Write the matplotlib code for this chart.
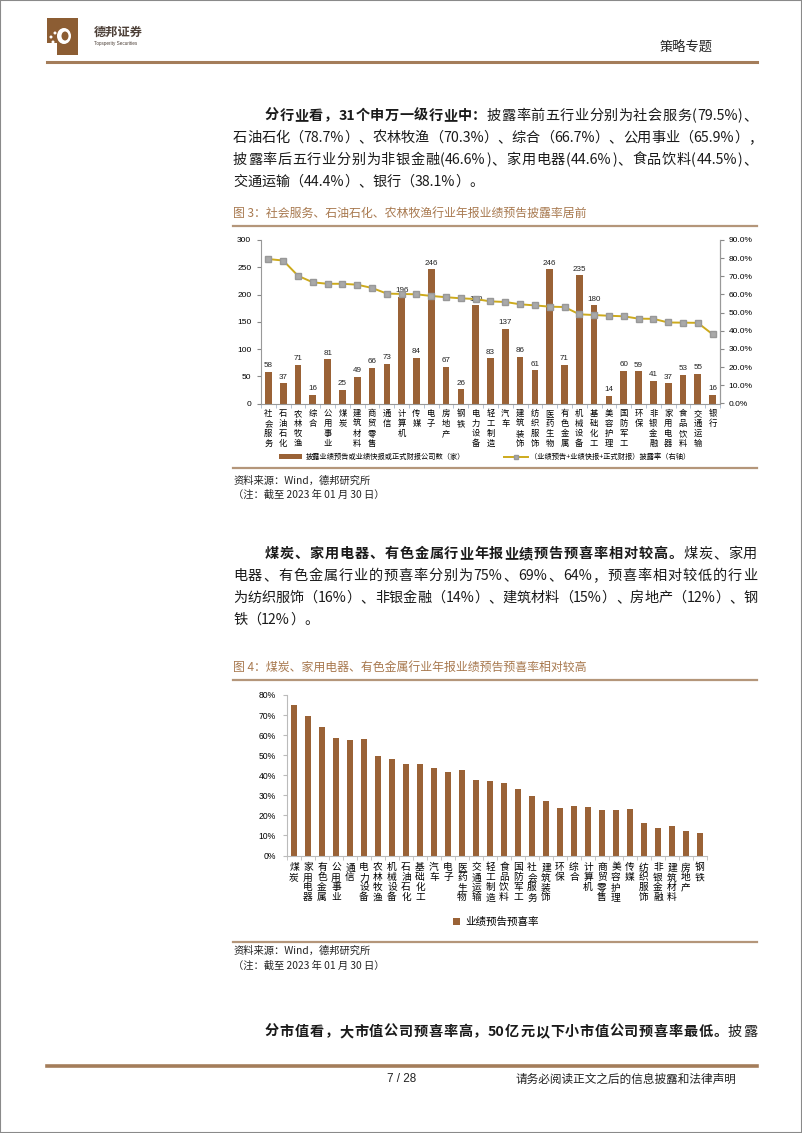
import matplotlib
matplotlib.use("Agg")
from matplotlib import pyplot as plt
from matplotlib.patches import Rectangle, Patch, Ellipse
from matplotlib.lines import Line2D
import numpy as np
import re

plt.rcParams['font.family'] = ['Noto Sans CJK SC', 'DejaVu Sans']

W, H = 802, 1133
CJK = ['Noto Sans CJK SC', 'DejaVu Sans']
NUM = ['Liberation Sans', 'DejaVu Sans']
BROWN = '#9a6236'
TITLE_C = '#a8794f'
RULE_C = '#b4967a'

# ---- figure 3 data ----
ind3 = ['社会服务', '石油石化', '农林牧渔', '综合', '公用事业', '煤炭', '建筑材料', '商贸零售',
        '通信', '计算机', '传媒', '电子', '房地产', '钢铁', '电力设备', '轻工制造', '汽车',
        '建筑装饰', '纺织服饰', '医药生物', '有色金属', '机械设备', '基础化工', '美容护理',
        '国防军工', '环保', '非银金融', '家用电器', '食品饮料', '交通运输', '银行']
cnt3 = [58, 37, 71, 16, 81, 25, 49, 66, 73, 196, 84, 246, 67, 26, 180, 83, 137,
        86, 61, 246, 71, 235, 180, 14, 60, 59, 41, 37, 53, 55, 16]
rate3 = [79.5, 78.7, 70.3, 66.7, 65.9, 65.9, 65.4, 63.6, 60.5, 60.3, 60.1, 59.2, 58.5,
         57.9, 57.5, 56.2, 55.9, 54.6, 54.0, 53.3, 53.1, 49.1, 48.7, 48.3, 48.0, 46.7,
         46.6, 44.6, 44.5, 44.4, 38.1]

# ---- figure 4 data ----
ind4 = ['煤炭', '家用电器', '有色金属', '公用事业', '通信', '电力设备', '农林牧渔', '机械设备',
        '石油石化', '基础化工', '汽车', '电子', '医药生物', '交通运输', '轻工制造', '食品饮料',
        '国防军工', '社会服务', '建筑装饰', '环保', '综合', '计算机', '商贸零售', '美容护理',
        '传媒', '纺织服饰', '非银金融', '建筑材料', '房地产', '钢铁']
rate4 = [75.0, 69.3, 64.0, 58.7, 57.5, 58.0, 49.8, 48.1, 45.8, 45.4, 43.4, 41.5, 42.5,
         37.8, 37.1, 36.2, 33.2, 29.5, 27.2, 23.5, 24.7, 24.4, 22.9, 22.9, 23.1, 16.1,
         13.8, 14.8, 12.1, 11.3]

fig = plt.figure(figsize=(W / 100, H / 100), dpi=100)
renderer = fig.canvas.get_renderer()


def fx(x):
    return x / W


def fy(y):
    return 1 - y / H


def hline(y, x0, x1, color, lw):
    fig.add_artist(Line2D([fx(x0), fx(x1)], [fy(y), fy(y)], color=color, lw=lw))


def rich(x, y, parts, size=10.2, right=None):
    # lay out tokens; if right is given, spread them so the line ends there
    toks = []
    for txt, wt in parts:
        for piece in re.findall(r'[0-9A-Za-z.%]+|.', txt):
            t = fig.text(fx(x), fy(y), piece, fontsize=size, fontweight=wt, family=CJK,
                         ha='left', va='center', color='#1a1a1a')
            toks.append((t, t.get_window_extent(renderer).width))
    total = sum(w for _, w in toks)
    gap = 0
    if right is not None and len(toks) > 1:
        gap = max(0, (right - x - total) / (len(toks) - 1))
    for t, w in toks:
        t.set_x(fx(x))
        x += w + gap


# page border
fig.add_artist(Rectangle((0, 0), 1, 1, transform=fig.transFigure, fill=False,
                         edgecolor='#8a8a8a', lw=1.5))

# header
fig.add_artist(Rectangle((fx(47), fy(55)), fx(31), 37 / H, transform=fig.transFigure,
                         facecolor='#8c5d33', edgecolor='none'))
fig.add_artist(Rectangle((fx(47), fy(55)), fx(10), 12 / H, transform=fig.transFigure,
                         facecolor='white', edgecolor='none'))
fig.add_artist(Ellipse((fx(64), fy(36)), fx(14), 16 / H, transform=fig.transFigure,
                       facecolor='white', edgecolor='none'))
fig.add_artist(Ellipse((fx(65), fy(36)), fx(7), 9 / H, transform=fig.transFigure,
                       facecolor='#8c5d33', edgecolor='none'))
for dx, dy in [(51, 37), (55, 33), (53, 42)]:
    fig.add_artist(Ellipse((fx(dx), fy(dy)), fx(3), 3 / H, transform=fig.transFigure,
                           facecolor='white', edgecolor='none'))
fig.text(fx(94), fy(32), '德邦证券', fontsize=8.8, fontweight='bold', color='#4d4038',
         family=CJK, va='center')
fig.text(fx(94), fy(43), 'Topsperity Securities', fontsize=3.3, color='#4d4038',
         family=NUM, va='center')
fig.text(fx(660), fy(48), '策略专题', fontsize=9.5, color='#222222', family=CJK, va='center')
hline(62, 47, 757, '#a47d5a', 2.2)

# paragraph 1
rich(265, 116, [('分行业看，31个申万一级行业中：', 'bold'),
                ('披露率前五行业分别为社会服务(79.5%)、', 'normal')], right=757)
rich(233, 138, [('石油石化（78.7%）、农林牧渔（70.3%）、综合（66.7%）、公用事业（65.9%），', 'normal')],
     right=757)
rich(233, 160, [('披露率后五行业分别为非银金融(46.6%)、家用电器(44.6%)、食品饮料(44.5%)、', 'normal')],
     right=757)
rich(233, 182, [('交通运输（44.4%）、银行（38.1%）。', 'normal')])

# figure 3 title
fig.text(fx(233), fy(213), '图 3：社会服务、石油石化、农林牧渔行业年报业绩预告披露率居前',
         fontsize=8.6, color=TITLE_C, family=CJK, va='center')
hline(226, 233, 757, RULE_C, 1.6)

# chart 1
ax1 = fig.add_axes([fx(261), fy(403.5), (720 - 261) / W, (403.5 - 240) / H])
x3 = np.arange(len(ind3))
ax1.bar(x3, cnt3, width=0.45, color=BROWN, zorder=2)
for xi, v in zip(x3, cnt3):
    ax1.text(xi, v + 5, str(v), ha='center', va='bottom', fontsize=5.8, family=NUM,
             color='#222222')
ax1.set_xlim(-0.5, len(ind3) - 0.5)
ax1.set_ylim(0, 300)
ax1.set_yticks(range(0, 301, 50))
ax1.set_xticks(x3)
ax1.set_xticklabels(['\n'.join(s) for s in ind3], fontsize=6, family=CJK,
                    linespacing=1.12, va='top')
ax1.set_xticks(np.arange(-0.5, len(ind3)), minor=True)
ax1.tick_params(axis='x', which='major', length=0, pad=4)
ax1.tick_params(axis='x', which='minor', length=3, color='#a8b8cc')
ax1.tick_params(axis='y', length=3, color='#888888', labelsize=6, pad=4)
for lab in ax1.get_yticklabels():
    lab.set_family(NUM)
ax1.spines['top'].set_visible(False)
for s in ['left', 'right', 'bottom']:
    ax1.spines[s].set_color('#999999')
    ax1.spines[s].set_linewidth(0.8)

ax1r = ax1.twinx()
ax1r.plot(x3, np.array(rate3) / 100, color='#cdaa1c', lw=1.4, marker='s', markersize=4,
          markerfacecolor='#a9a9a9', markeredgecolor='#989898', zorder=3)
ax1r.set_ylim(0, 0.9)
ax1r.set_yticks(np.arange(0, 0.91, 0.1))
ax1r.set_yticklabels(['{:.1f}%'.format(v * 100) for v in np.arange(0, 0.91, 0.1)],
                     fontsize=6, family=NUM)
ax1r.tick_params(axis='y', length=3, color='#888888', pad=3)
ax1r.spines['top'].set_visible(False)
ax1r.spines['right'].set_color('#999999')
ax1r.spines['left'].set_visible(False)
ax1r.spines['bottom'].set_visible(False)

h1 = Patch(facecolor=BROWN, edgecolor='none')
h2 = Line2D([], [], color='#cdaa1c', lw=1.4, marker='s', markersize=3,
            markerfacecolor='#a9a9a9', markeredgecolor='#989898')
fig.legend([h1, h2], ['披露业绩预告或业绩快报或正式财报公司数（家）',
                      '（业绩预告+业绩快报+正式财报）披露率（右轴）'],
           loc='center', bbox_to_anchor=(fx(485), fy(457)), ncol=2, frameon=False,
           prop={'family': CJK, 'size': 5.2}, handlelength=3.2, handleheight=0.6,
           columnspacing=5.5, handletextpad=0.4)

hline(468, 233, 757, RULE_C, 1.6)
fig.text(fx(233), fy(481), '资料来源：Wind，德邦研究所', fontsize=7.4, family=CJK,
         va='center', color='#222222')
fig.text(fx(233), fy(495), '（注：截至 2023 年 01 月 30 日）', fontsize=7.4, family=CJK,
         va='center', color='#222222')

# paragraph 2
rich(265, 554, [('煤炭、家用电器、有色金属行业年报业绩预告预喜率相对较高。', 'bold'),
                ('煤炭、家用', 'normal')], right=757)
rich(233, 576, [('电器、有色金属行业的预喜率分别为75%、69%、64%，预喜率相对较低的行业', 'normal')],
     right=757)
rich(233, 598, [('为纺织服饰（16%）、非银金融（14%）、建筑材料（15%）、房地产（12%）、钢', 'normal')],
     right=757)
rich(233, 620, [('铁（12%）。', 'normal')])

# figure 4 title
fig.text(fx(233), fy(667), '图 4：煤炭、家用电器、有色金属行业年报业绩预告预喜率相对较高',
         fontsize=8.6, color=TITLE_C, family=CJK, va='center')
hline(680, 233, 757, RULE_C, 1.6)

# chart 2
ax2 = fig.add_axes([fx(287), fy(855.5), (707 - 287) / W, (855.5 - 695) / H])
x4 = np.arange(len(ind4))
ax2.bar(x4, rate4, width=0.4, color=BROWN, zorder=2)
ax2.set_xlim(-0.5, len(ind4) - 0.5)
ax2.set_ylim(0, 80)
ax2.set_yticks(range(0, 81, 10))
ax2.set_yticklabels(['{}%'.format(v) for v in range(0, 81, 10)], fontsize=6.2, family=NUM)
ax2.set_xticks(x4)
ax2.set_xticklabels(['\n'.join(s) for s in ind4], fontsize=7, family=CJK,
                    linespacing=1.0, va='top')
ax2.set_xticks(np.arange(-0.5, len(ind4)), minor=True)
ax2.tick_params(axis='x', which='major', length=0, pad=5)
ax2.tick_params(axis='x', which='minor', length=3, color='#bbbbbb')
ax2.tick_params(axis='y', length=3, color='#bbbbbb', pad=5)
ax2.spines['top'].set_visible(False)
ax2.spines['right'].set_visible(False)
for s in ['left', 'bottom']:
    ax2.spines[s].set_color('#bbbbbb')
    ax2.spines[s].set_linewidth(0.8)

fig.legend([Patch(facecolor=BROWN, edgecolor='none')], ['业绩预告预喜率'],
           loc='center', bbox_to_anchor=(fx(496), fy(922)), frameon=False,
           prop={'family': CJK, 'size': 7.6}, handlelength=0.6, handleheight=0.6,
           handletextpad=0.5)

hline(942, 233, 757, RULE_C, 1.6)
fig.text(fx(233), fy(951), '资料来源：Wind，德邦研究所', fontsize=7.4, family=CJK,
         va='center', color='#222222')
fig.text(fx(233), fy(966), '（注：截至 2023 年 01 月 30 日）', fontsize=7.4, family=CJK,
         va='center', color='#222222')

# paragraph 3
rich(265, 1032, [('分市值看，大市值公司预喜率高，50亿元以下小市值公司预喜率最低。', 'bold'),
                 ('披露', 'normal')], right=757)

# footer
hline(1066, 47, 757, '#a47d5a', 2.6)
fig.text(fx(402), fy(1079), '7 / 28', fontsize=8.4, family=NUM, ha='center', va='center',
         color='#222222')
fig.text(fx(516), fy(1079), '请务必阅读正文之后的信息披露和法律声明', fontsize=8.4, family=CJK,
         va='center', color='#222222')

fig.savefig('out.png', dpi=100)
